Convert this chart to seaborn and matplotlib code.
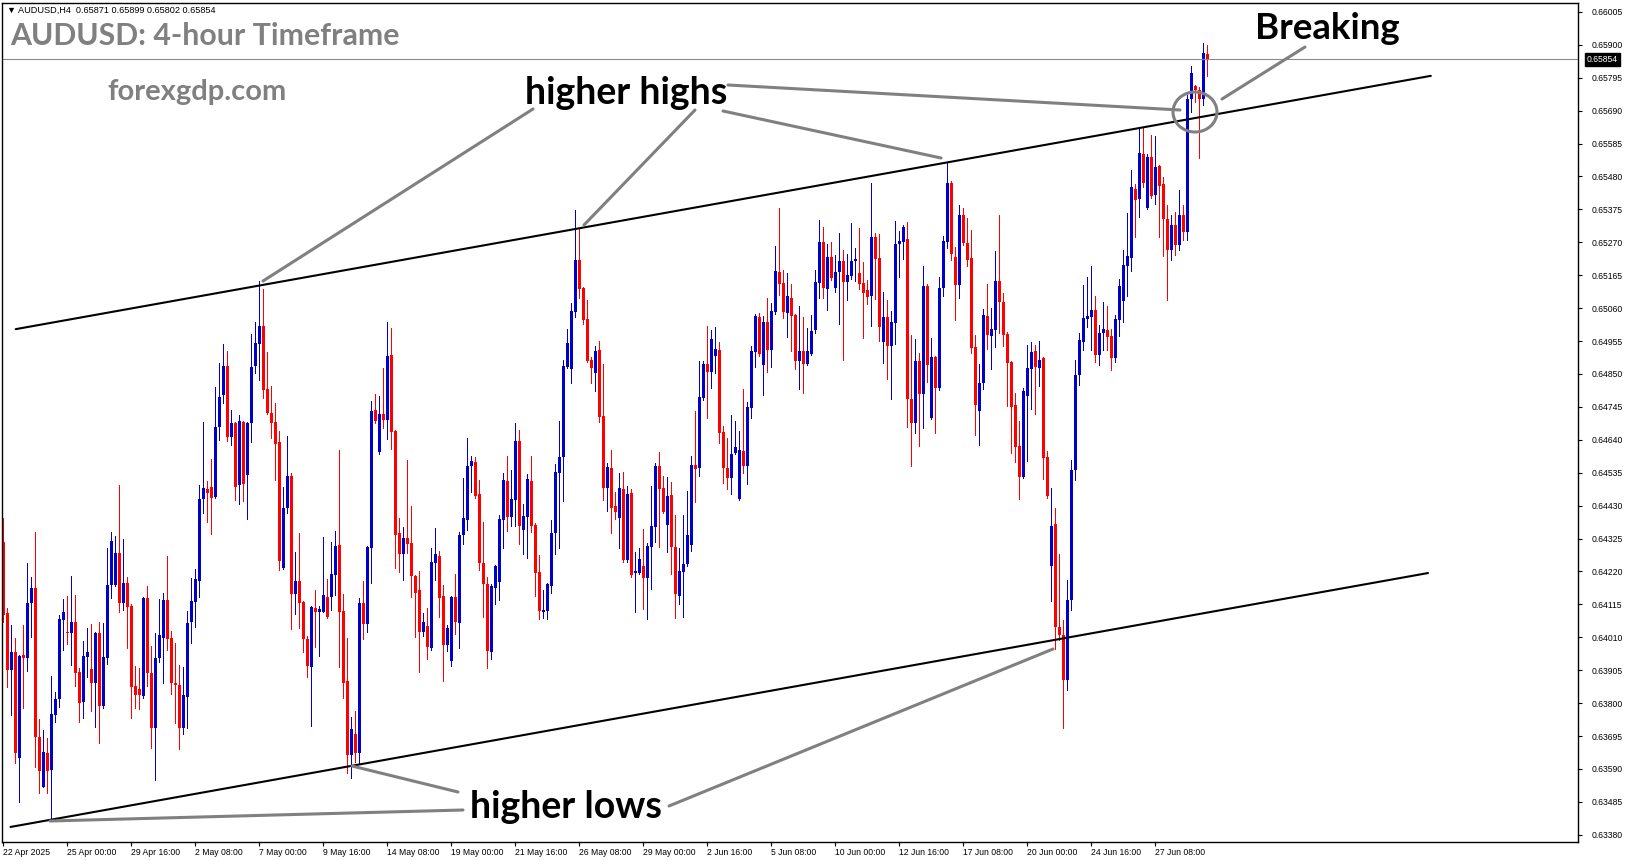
import matplotlib
matplotlib.use("Agg")
import matplotlib.pyplot as plt
import numpy as np
import pandas as pd
import seaborn as sns
from matplotlib.lines import Line2D
from matplotlib.patches import Ellipse

# AUDUSD H4 candles, prices in points (1e-5)
opens = [
    64314, 64087, 63906, 63963, 63624, 63953, 63943, 64119, 64167, 63692, 63533, 63640, 63587, 63762, 63813, 64065,
    64027, 64024, 64059, 63900, 63804, 63947, 63909, 63864, 64024, 63791, 63943, 64177, 64177, 64278, 64119, 64183,
    64110, 63855, 63845, 63823, 64135, 63896, 63720, 63943, 64007, 64129, 64007, 63864, 63858, 63720, 63820, 64059,
    64123, 64190, 64451, 64483, 64490, 64458, 64681, 64783, 64876, 64649, 64693, 64496, 64697, 64528, 64693, 64876,
    64945, 65003, 64802, 64725, 64697, 64633, 64231, 64422, 64525, 64148, 64190, 64123, 64004, 63916, 64103, 64091,
    64091, 64139, 64139, 64209, 64304, 64094, 63871, 63634, 63701, 63640, 64119, 64052, 64294, 64735, 64601, 64722,
    64703, 64910, 64668, 64342, 64275, 64326, 64310, 64206, 64161, 64027, 64046, 63975, 64247, 64269, 64142, 63985,
    63935, 64139, 64055, 64336, 64384, 64557, 64570, 64467, 64247, 64180, 63963, 64167, 64187, 64384, 64509, 64394,
    64448, 64636, 64352, 64394, 64509, 64368, 64219, 64091, 64094, 64174, 64342, 64534, 64585, 64873, 64866, 65048,
    65214, 65124, 65025, 64895, 64853, 64926, 64716, 64486, 64550, 64429, 64390, 64483, 64257, 64470, 64215, 64215,
    64238, 64199, 64298, 64362, 64557, 64486, 64368, 64464, 64298, 64142, 64219, 64244, 64304, 64560, 64550, 64773,
    64882, 64857, 64907, 64926, 64665, 64550, 64518, 64597, 64451, 64604, 64557, 64741, 64920, 65032, 64879, 65016,
    64926, 65048, 65176, 65140, 65044, 65092, 65038, 64892, 64923, 64882, 64913, 64990, 65140, 65271, 65121, 65223,
    65124, 65176, 65211, 65144, 65163, 65211, 65172, 65140, 65118, 65099, 65287, 65219, 64952, 65032, 64939, 65012,
    65264, 65271, 65280, 64770, 64693, 64892, 64786, 65131, 64709, 64904, 64805, 65124, 65271, 65459, 65223, 65134,
    65357, 65267, 65219, 64936, 64732, 64821, 65035, 64971, 64990, 65147, 65080, 64977, 64888, 64751, 64620, 64522,
    64780, 64866, 64923, 64869, 64900, 64585, 64238, 64371, 64043, 64017, 63874, 64129, 64544, 64847, 64952, 65025,
    65032, 65054, 64910, 64980, 64990, 64971, 64901, 65022, 65083, 65195, 65219, 65440, 65408, 65551, 65379, 65542,
    65421, 65514, 65456, 65344, 65245, 65325, 65261, 65357, 65303, 65727, 65769, 65756, 65727, 65871,
]
highs = [
    64390, 64103, 64049, 64007, 63953, 64049, 64247, 64203, 64346, 63749, 63714, 63688, 63887, 63836, 64081, 64132,
    64142, 64206, 64145, 63912, 63998, 64039, 64052, 64027, 64059, 64055, 64294, 64346, 64333, 64496, 64323, 64203,
    64115, 63919, 63912, 64140, 64174, 63982, 64024, 64132, 64151, 64269, 64030, 63991, 63922, 63916, 64094, 64199,
    64228, 64496, 64697, 64509, 64578, 64809, 64885, 64945, 64923, 64735, 64697, 64719, 64700, 64697, 64977, 65016,
    65147, 65121, 64920, 64812, 64757, 64668, 64490, 64652, 64534, 64282, 64342, 64126, 64014, 64110, 64161, 64110,
    64330, 64196, 64314, 64349, 64607, 64148, 64007, 63756, 63775, 64135, 64190, 64300, 64764, 64786, 64780, 64869,
    65016, 64996, 64672, 64390, 64362, 64576, 64429, 64209, 64222, 64087, 64103, 64294, 64358, 64285, 64177, 64049,
    64142, 64212, 64346, 64518, 64645, 64588, 64585, 64512, 64378, 64203, 64180, 64241, 64400, 64534, 64588, 64544,
    64693, 64671, 64435, 64531, 64588, 64374, 64272, 64161, 64183, 64384, 64563, 64700, 64895, 64993, 65076, 65373,
    65312, 65128, 65086, 64904, 64939, 64955, 64882, 64566, 64607, 64474, 64534, 64538, 64493, 64483, 64282, 64294,
    64355, 64310, 64493, 64566, 64601, 64525, 64522, 64506, 64400, 64294, 64400, 64477, 64588, 64732, 64892, 64892,
    65003, 64990, 65000, 64952, 64684, 64645, 64719, 64700, 64668, 64802, 64761, 64939, 65041, 65044, 65035, 65092,
    65076, 65258, 65379, 65182, 65172, 65137, 65041, 65067, 65032, 64996, 65038, 65182, 65341, 65319, 65264, 65271,
    65229, 65299, 65245, 65232, 65331, 65251, 65315, 65208, 65150, 65459, 65299, 65296, 65112, 65086, 65051, 65338,
    65306, 65325, 65335, 64974, 64961, 64916, 65195, 65137, 64964, 64907, 65160, 65290, 65523, 65466, 65255, 65389,
    65379, 65347, 65309, 64974, 64882, 65057, 65137, 65060, 65242, 65357, 65108, 64984, 64892, 64789, 64700, 64805,
    64942, 64952, 64942, 64955, 64904, 64604, 64486, 64422, 64275, 64065, 64193, 64576, 64895, 64980, 65134, 65160,
    65195, 65099, 65006, 65080, 65067, 64993, 65038, 65153, 65245, 65363, 65501, 65456, 65634, 65638, 65551, 65612,
    65609, 65517, 65479, 65389, 65357, 65367, 65437, 65389, 65740, 65833, 65772, 65765, 65905, 65899,
]
lows = [
    64059, 63852, 63762, 63609, 63485, 63784, 63903, 64011, 63597, 63513, 63533, 63513, 63433, 63740, 63788, 63969,
    63988, 63922, 63855, 63740, 63752, 63884, 63775, 63724, 63672, 63784, 63925, 64135, 64174, 64091, 64097, 63975,
    63752, 63784, 63781, 63816, 63855, 63656, 63555, 63932, 63864, 63969, 63829, 63736, 63653, 63701, 63720, 63991,
    64043, 64139, 64406, 64378, 64339, 64454, 64639, 64757, 64636, 64623, 64448, 64435, 64445, 64387, 64633, 64853,
    64831, 64773, 64722, 64645, 64512, 64225, 64228, 64406, 64036, 64084, 64039, 63963, 63884, 63727, 63979, 63950,
    64091, 64071, 64097, 64145, 63916, 63816, 63577, 63561, 63613, 63609, 64004, 64027, 64183, 64693, 64595, 64677,
    64642, 64610, 64231, 64219, 64193, 64278, 64139, 64011, 63900, 64014, 63940, 63970, 64193, 64075, 63871, 63966,
    63919, 64020, 63975, 64307, 64352, 64474, 64454, 64225, 64075, 63912, 63940, 64116, 64129, 64294, 64349, 64365,
    64365, 64307, 64275, 64262, 64346, 64142, 64068, 64071, 64068, 64151, 64275, 64294, 64445, 64869, 64821, 65032,
    65092, 65009, 64888, 64821, 64796, 64697, 64448, 64413, 64342, 64387, 64294, 64251, 64251, 64203, 64091, 64212,
    64100, 64068, 64164, 64314, 64298, 64406, 64282, 64212, 64071, 64116, 64075, 64238, 64285, 64442, 64525, 64767,
    64709, 64805, 64853, 64629, 64502, 64483, 64467, 64594, 64448, 64534, 64499, 64709, 64873, 64907, 64783, 64857,
    64873, 65041, 65102, 65028, 64968, 64923, 64866, 64802, 64789, 64879, 64910, 64980, 65092, 65092, 65054, 65150,
    65112, 65009, 64895, 65086, 65153, 65147, 65121, 64964, 65073, 65003, 65089, 64955, 64885, 64834, 64770, 64945,
    65160, 65216, 64681, 64557, 64661, 64620, 64677, 64825, 64705, 64661, 64800, 65099, 65251, 65214, 65022, 65092,
    65261, 65195, 64916, 64655, 64623, 64802, 64929, 64866, 64936, 64980, 64939, 64748, 64597, 64570, 64451, 64518,
    64573, 64738, 64722, 64812, 64515, 64455, 64126, 63972, 64001, 63720, 63842, 64097, 64512, 64815, 64926, 65000,
    64926, 64888, 64879, 64926, 64926, 64863, 64888, 64971, 65016, 65099, 65179, 65287, 65351, 65447, 65376, 65412,
    65392, 65287, 65226, 65086, 65214, 65229, 65245, 65277, 65277, 65686, 65718, 65538, 65708, 65802,
]
closes = [
    64081, 63906, 63963, 63640, 63950, 63943, 64119, 64167, 63692, 63584, 63644, 63584, 63765, 63813, 64068, 64091,
    64024, 64059, 63896, 63800, 63950, 63963, 63864, 64024, 63791, 63947, 64177, 64317, 64278, 64119, 64183, 64107,
    63852, 63826, 63826, 64135, 63896, 63720, 63943, 64017, 64129, 64004, 63864, 63858, 63720, 63826, 64055, 64126,
    64196, 64451, 64486, 64470, 64454, 64681, 64777, 64876, 64649, 64693, 64490, 64700, 64499, 64693, 64873, 64948,
    65003, 64799, 64725, 64693, 64626, 64254, 64422, 64525, 64148, 64190, 64119, 64004, 63919, 64107, 64091, 64100,
    64145, 64075, 64212, 64301, 64091, 63864, 63634, 63717, 63640, 64119, 64052, 64298, 64732, 64700, 64722, 64703,
    64907, 64665, 64336, 64275, 64326, 64307, 64206, 64151, 64027, 64059, 63979, 64251, 64275, 64135, 63985, 64039,
    64139, 64059, 64336, 64390, 64557, 64573, 64461, 64247, 64180, 63966, 64174, 64238, 64387, 64512, 64394, 64451,
    64636, 64365, 64397, 64515, 64365, 64215, 64094, 64097, 64180, 64342, 64538, 64585, 64876, 64948, 65051, 65214,
    65121, 65022, 64892, 64869, 64923, 64713, 64486, 64554, 64422, 64410, 64486, 64257, 64467, 64209, 64222, 64259,
    64199, 64301, 64365, 64557, 64483, 64410, 64461, 64298, 64148, 64222, 64244, 64336, 64560, 64547, 64777, 64882,
    64857, 64961, 64929, 64661, 64550, 64518, 64594, 64617, 64607, 64557, 64745, 64923, 65035, 64913, 65016, 64926,
    65051, 65179, 65137, 65048, 65099, 65035, 64892, 64923, 64882, 64923, 64987, 65144, 65271, 65124, 65223, 65156,
    65176, 65211, 65144, 65166, 65211, 65216, 65137, 65108, 65096, 65287, 65216, 65000, 65032, 64939, 65016, 65264,
    65274, 65319, 64770, 64693, 64892, 64786, 65131, 64879, 64904, 64805, 65124, 65274, 65459, 65232, 65134, 65357,
    65267, 65214, 64932, 64751, 64821, 65038, 64974, 64993, 65147, 65080, 64974, 64885, 64745, 64617, 64522, 64796,
    64869, 64920, 64873, 64895, 64581, 64461, 64365, 64043, 64017, 63874, 64129, 64544, 64847, 64958, 65028, 65035,
    65054, 64910, 64980, 64993, 64968, 64901, 65025, 65131, 65198, 65226, 65447, 65405, 65554, 65459, 65542, 65418,
    65511, 65450, 65344, 65245, 65325, 65261, 65357, 65303, 65727, 65810, 65756, 65727, 65873, 65854,
]

# one time label every 16 bars, starting at the first bar
date_labels = [
    "22 Apr 2025", "25 Apr 00:00", "29 Apr 16:00", "2 May 08:00", "7 May 00:00", "9 May 16:00",
    "14 May 08:00", "19 May 00:00", "21 May 16:00", "26 May 08:00", "29 May 00:00", "2 Jun 16:00",
    "5 Jun 08:00", "10 Jun 00:00", "12 Jun 16:00", "17 Jun 08:00", "20 Jun 00:00", "24 Jun 16:00",
    "27 Jun 08:00",
]
price_ticks = [
    0.63380, 0.63485, 0.63590, 0.63695, 0.63800, 0.63905, 0.64010, 0.64115, 0.64220, 0.64325,
    0.64430, 0.64535, 0.64640, 0.64745, 0.64850, 0.64955, 0.65060, 0.65165, 0.65270, 0.65375,
    0.65480, 0.65585, 0.65690, 0.65795, 0.65900, 0.66005,
]

# channel lines: (bar, price) end points
upper_channel = [(3.1, 0.64993), (356.9, 0.65801)]
lower_channel = [(1.8, 0.63405), (356.2, 0.64215)]

W, H = 1631, 861
BLUE = "#0000CD"
RED = "#FF0000"
GREY = "#808080"


def fp(x, y):
    # image pixel -> figure fraction
    return x / W, 1 - y / H


def main():
    sns.set_theme(style="white")
    plt.rcParams["font.family"] = ["Liberation Sans", "DejaVu Sans"]

    df = pd.DataFrame({"open": opens, "high": highs, "low": lows, "close": closes}) / 1e5
    df["bar"] = np.arange(len(df))
    colors = np.where(df["close"] >= df["open"], BLUE, RED)

    fig = plt.figure(figsize=(W / 100, H / 100), dpi=100)
    ax = fig.add_axes([2.5 / W, 19 / H, 1575.5 / W, 839.5 / H])

    ax.vlines(df["bar"], df["low"], df["high"], colors=colors, linewidth=0.72, antialiased=False)
    body_lo = df[["open", "close"]].min(axis=1)
    body_h = (df["close"] - df["open"]).abs().clip(lower=0.00003)
    ax.bar(df["bar"], body_h, bottom=body_lo, width=0.75, color=colors, linewidth=0, antialiased=False)

    for line in (upper_channel, lower_channel):
        xs, ys = zip(*line)
        ax.plot(xs, ys, color="black", lw=1.5)

    last = df.iloc[-1]
    ax.axhline(last["close"], color="#8a8a8a", lw=0.8)

    ax.set_xlim(-0.2, 393.7)
    ax.set_ylim(0.63357, 0.66035)
    for s in ax.spines.values():
        s.set_color("black")
        s.set_linewidth(1)

    tick_fs = 6.2
    ax.yaxis.tick_right()
    ax.set_yticks(price_ticks)
    ax.set_yticklabels([f"{t:.5f}" for t in price_ticks])
    ax.tick_params(axis="y", direction="out", length=3, width=0.8, pad=6.5, labelsize=tick_fs,
                   colors="black", right=True, left=False)
    ax.set_xticks(np.arange(len(date_labels)) * 16)
    ax.set_xticklabels(date_labels, ha="left")
    ax.tick_params(axis="x", direction="out", length=3, width=0.8, pad=1.2, labelsize=tick_fs,
                   colors="black", bottom=True)

    ax.text(1.0055, last["close"], f"{last['close']:.5f}", transform=ax.get_yaxis_transform(),
            ha="left", va="center", fontsize=tick_fs, color="white",
            bbox=dict(boxstyle="square,pad=0.25", fc="black", ec="black"))

    # header line
    fig.text(*fp(7, 13), f"\u25bc AUDUSD,H4  {last['open']:.5f} {last['high']:.5f} "
             f"{last['low']:.5f} {last['close']:.5f}", fontsize=6.6, color="black")

    bold = dict(family=["Lato", "DejaVu Sans"], fontweight="bold")
    fig.text(*fp(10, 45), "AUDUSD: 4-hour Timeframe", fontsize=21.8, color=GREY, **bold)
    fig.text(*fp(107, 100), "forexgdp.com", fontsize=21, color=GREY, **bold)
    fig.text(*fp(525, 104), "higher highs", fontsize=27, color="black", **bold)
    fig.text(*fp(1255, 39), "Breaking", fontsize=26.4, color="black", **bold)
    fig.text(*fp(470, 818), "higher lows", fontsize=27, color="black", **bold)

    pointers = [
        ((533, 109), (263, 281)), ((695, 110), (584, 225)), ((723, 111), (941, 158)),
        ((728, 85), (1180, 110)), ((1305, 47), (1222, 99)),
        ((463, 810), (50, 821)), ((458, 792), (352, 766)), ((669, 806), (1053, 649)),
    ]
    for a, b in pointers:
        (x0, y0), (x1, y1) = fp(*a), fp(*b)
        fig.add_artist(Line2D([x0, x1], [y0, y1], color=GREY, lw=2.2, transform=fig.transFigure))
    fig.add_artist(Ellipse(fp(1195, 112), 44 / W, 40 / H, fill=False, ec=GREY, lw=2.2,
                           transform=fig.transFigure))

    fig.savefig("out.png", dpi=100)
    plt.close()


if __name__ == '__main__':
    main()
